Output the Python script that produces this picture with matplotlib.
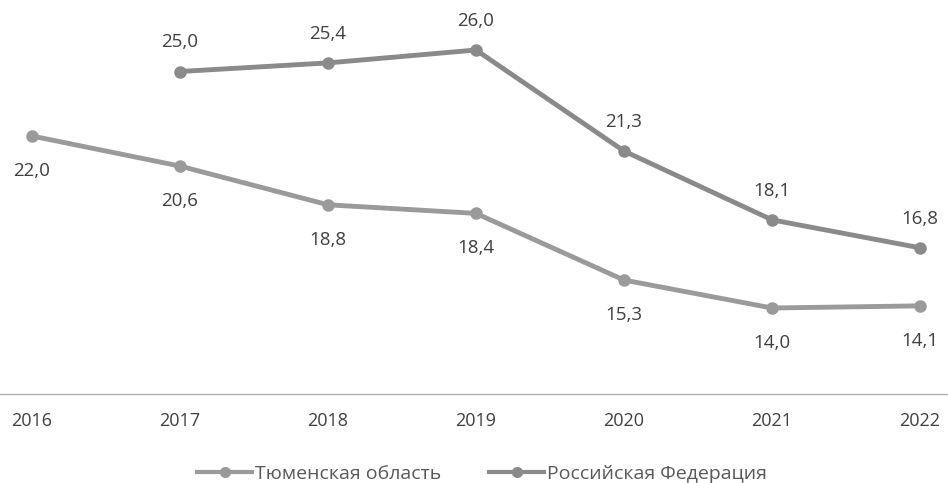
import matplotlib
matplotlib.use("Agg")
import matplotlib.pyplot as plt
import numpy as np

years = [2016, 2017, 2018, 2019, 2020, 2021, 2022]
tyumen = [22.0, 20.6, 18.8, 18.4, 15.3, 14.0, 14.1]
rf_years = [2017, 2018, 2019, 2020, 2021, 2022]
rf = [25.0, 25.4, 26.0, 21.3, 18.1, 16.8]
series_names = ["Тюменская область", "Российская Федерация"]

plt.rcParams['font.family'] = ['Open Sans', 'DejaVu Sans']

W, H = 948, 483
fig = plt.figure(figsize=(W / 100, H / 100), dpi=100)
ax = fig.add_axes([0 / W, 1 - 394 / H, 948 / W, (394 - 7) / H])

c_low = '#9a9a9a'
c_up = '#8a8a8a'

l1, = ax.plot(years, tyumen, color=c_low, lw=3.5, marker='o', ms=8, label=series_names[0], zorder=3)
l2, = ax.plot(rf_years, rf, color=c_up, lw=3.5, marker='o', ms=8, label=series_names[1], zorder=3)

def fmt(v):
    return f"{v:.1f}".replace('.', ',')

for x, v in zip(years, tyumen):
    ax.annotate(fmt(v), (x, v), xytext=(0, -25), textcoords='offset points',
                ha='center', va='center', fontsize=13.5, color='#404040')
for x, v in zip(rf_years, rf):
    ax.annotate(fmt(v), (x, v), xytext=(0, 21), textcoords='offset points',
                ha='center', va='center', fontsize=13.5, color='#404040')

ax.set_xlim(2016 - 32 / 148, 2022 + 28 / 148)
ax.set_ylim(10, 28)
for s in ['top', 'right', 'left']:
    ax.spines[s].set_visible(False)
ax.spines['bottom'].set_color('#b0b0b0')
ax.spines['bottom'].set_linestyle((0, (1, 1)))
ax.spines['bottom'].set_linewidth(1)
ax.set_yticks([])
ax.set_xticks(years)
ax.set_xticklabels([str(y) for y in years])
ax.tick_params(axis='x', length=0, pad=13, labelsize=13, labelcolor='#404040')

from matplotlib.lines import Line2D
h1 = Line2D([], [], color=c_low, lw=3, marker='o', ms=7)
h2 = Line2D([], [], color=c_up, lw=3, marker='o', ms=7)
fig.legend(handles=[h1, h2], labels=series_names, loc='center',
           bbox_to_anchor=(482 / W, 1 - 474 / H),
           ncol=2, frameon=False, fontsize=14, handlelength=2.8, columnspacing=2.5,
           handletextpad=0.15, labelcolor='#595959')

fig.savefig('out.png', dpi=100)
